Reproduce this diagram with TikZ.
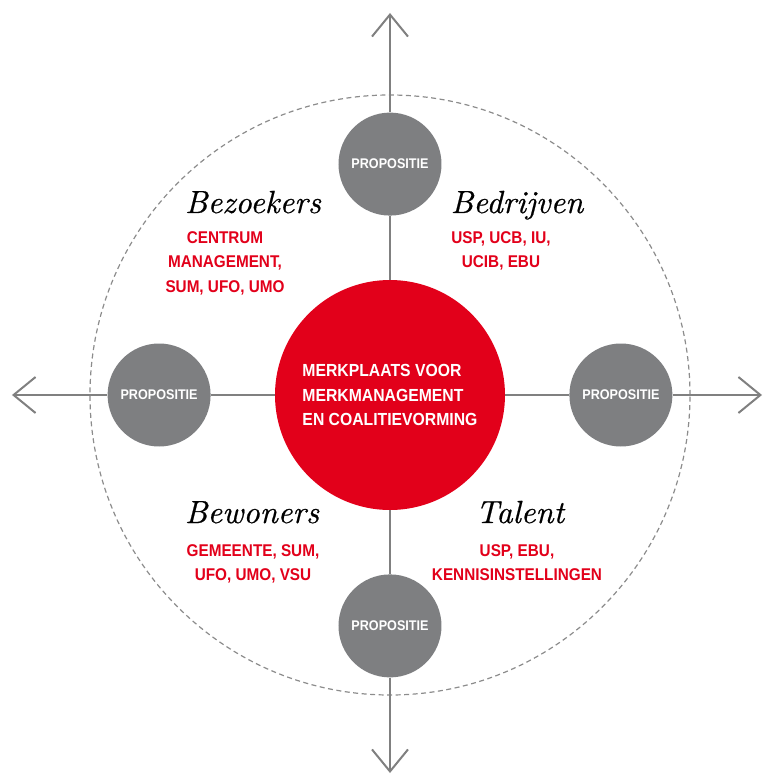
\documentclass[tikz,border=0pt]{standalone}
\usepackage{fontspec}
\usepackage{tikz}
\usetikzlibrary{arrows.meta,positioning}
\newfontfamily\capsfont[FakeStretch=0.9]{Liberation Sans}
\newfontfamily\headfont{lmroman10-italic}[Extension=.otf, FakeBold=0.6]
\definecolor{mkred}{RGB}{226,0,26}
\definecolor{mkgray}{RGB}{126,127,129}
\definecolor{mkaxis}{RGB}{128,128,128}
\definecolor{mkdash}{RGB}{140,140,140}
\tikzset{
  core/.style={
    circle, fill=mkred, minimum size=230pt, inner sep=0pt,
    align=left, text=white,
    font=\capsfont\bfseries\fontsize{17.5}{24.5}\selectfont
  },
  prop/.style={
    circle, fill=mkgray, minimum size=103pt, inner sep=0pt, text=white,
    font=\capsfont\bfseries\fontsize{14}{16}\selectfont
  },
  grp/.style={anchor=base, inner sep=0pt, font=\headfont\fontsize{32}{36}\selectfont},
  who/.style={
    anchor=north, inner sep=0pt, align=center, text=mkred,
    font=\capsfont\bfseries\fontsize{17}{24.5}\selectfont
  },
  axis/.style={draw=mkaxis, line width=2pt},
  tip/.style={axis, -{Straight Barb[length=22pt,width=36pt]}},
  ring/.style={draw=mkdash, line width=1.2pt, dash pattern=on 5pt off 3.5pt}
}
\begin{document}
\begin{tikzpicture}[x=1pt, y=1pt, node distance=64pt]
  \useasboundingbox (-390,-379) rectangle (373,395);
  \node[core] (core) at (0,0) {MERKPLAATS VOOR\\MERKMANAGEMENT\\EN COALITIEVORMING};
  \draw[ring] (core.center) circle[radius=300pt];
  \node[prop, above=of core] (pnorth) {PROPOSITIE};
  \node[prop, below=of core] (psouth) {PROPOSITIE};
  \node[prop, left=of core] (pwest) {PROPOSITIE};
  \node[prop, right=of core] (peast) {PROPOSITIE};
  % free ends of the axes
  \coordinate (tipn) at (0,382);
  \coordinate (tips) at (0,-378);
  \coordinate (tipw) at (-378,0);
  \coordinate (tipe) at (372,0);
  \draw[axis] (core) -- (pnorth);
  \draw[axis] (core) -- (psouth);
  \draw[axis] (core) -- (pwest);
  \draw[axis] (core) -- (peast);
  \draw[tip] (pnorth) -- (tipn);
  \draw[tip] (psouth) -- (tips);
  \draw[tip] (pwest) -- (tipw);
  \draw[tip] (peast) -- (tipe);
  % the four groups
  \node[grp] (bezoekers) at (-137,182) {Bezoekers};
  \node[grp] (bedrijven) at (127,182) {Bedrijven};
  \node[grp] (bewoners) at (-138,-128) {Bewoners};
  \node[grp] (talent) at (130,-128) {Talent};
  \node[who] (bezlist) at (-165,164) {CENTRUM\\MANAGEMENT,\\SUM, UFO, UMO};
  \node[who] (bedlist) at (111,164) {USP, UCB, IU,\\UCIB, EBU};
  \node[who] (bewlist) at (-137,-149) {GEMEENTE, SUM,\\UFO, UMO, VSU};
  \node[who] (tallist) at (127,-149) {USP, EBU,\\KENNISINSTELLINGEN};
\end{tikzpicture}
\end{document}
